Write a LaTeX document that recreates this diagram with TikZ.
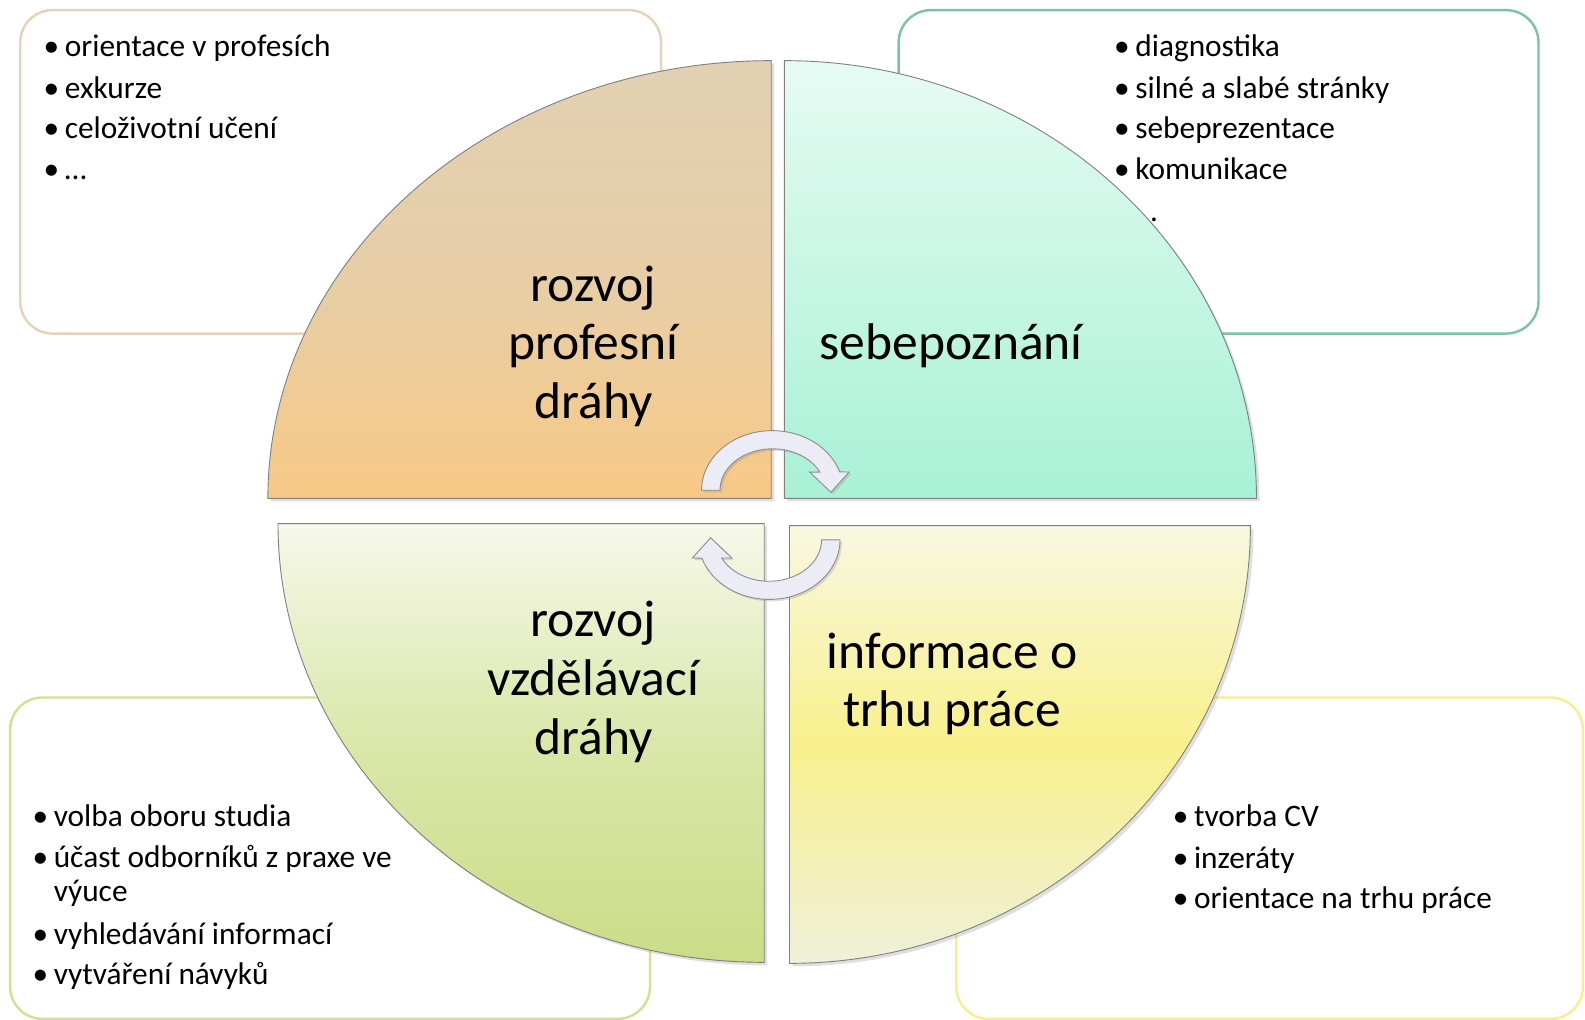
\documentclass[tikz,border=0pt]{standalone}
\usepackage{fontspec}
\setmainfont{Carlito}
\usetikzlibrary{calc,shadows}
\definecolor{profline}{HTML}{E6D3B7}
\definecolor{sebeline}{HTML}{7CC2A8}
\definecolor{vzdline}{HTML}{D0E290}
\definecolor{trhline}{HTML}{F8EE8E}
\definecolor{proftop}{HTML}{E2D0B3}
\definecolor{profmid}{HTML}{E7CEA6}
\definecolor{profbot}{HTML}{F7C986}
\definecolor{sebetop}{HTML}{E6FBF3}
\definecolor{sebemid}{HTML}{C6F6E4}
\definecolor{sebebot}{HTML}{A9F1D6}
\definecolor{vzdtop}{HTML}{F6F8EA}
\definecolor{vzdmid}{HTML}{DAE7A9}
\definecolor{vzdbot}{HTML}{CADD88}
\definecolor{trhtop}{HTML}{F7F8E2}
\definecolor{trhmid}{HTML}{F9F08C}
\definecolor{trhbot}{HTML}{EEF0DA}
\definecolor{arrowfill}{HTML}{ECECF7}
\tikzset{infobox/.style={line width=2.4pt, rounded corners=32pt, fill=white},
         piece/.style={draw=black!50, line width=0.9pt, drop shadow={shadow xshift=3pt, shadow yshift=-3pt, opacity=0.25}},
         itemtext/.style={anchor=base west, inner sep=0pt, font=\fontsize{31}{35}\selectfont},
         bigtext/.style={anchor=base, inner sep=0pt, font=\fontsize{51}{58}\selectfont},
         cyclearrow/.style={draw=black!45, line width=0.9pt, fill=arrowfill, drop shadow={shadow xshift=2pt, shadow yshift=-2pt, opacity=0.25}}}
\newcommand{\itm}[1]{\makebox[21pt][l]{\textbullet}#1}
\begin{document}
\begin{tikzpicture}[x=1pt,y=-1pt]
   \useasboundingbox (0,0) rectangle (1568,1009);

   \draw[infobox, draw=profline] ( 20, 10) rectangle ( 654, 330);
   \draw[infobox, draw=sebeline] (889, 10) rectangle (1522, 330);
   \draw[infobox, draw=vzdline]  ( 10,690) rectangle ( 643,1008);
   \draw[infobox, draw=trhline]  (946,690) rectangle (1566,1008);

   \node[itemtext] (profItemA) at (43, 56) {\itm{orientace v profesích}};
   \node[itemtext] (profItemB) at (43, 97) {\itm{exkurze}};
   \node[itemtext] (profItemC) at (43,137) {\itm{celoživotní učení}};
   \node[itemtext] (profItemD) at (43,178) {\itm{…}};

   \node[itemtext] (sebeItemA) at (1102, 56) {\itm{diagnostika}};
   \node[itemtext] (sebeItemB) at (1102, 97) {\itm{silné a slabé stránky}};
   \node[itemtext] (sebeItemC) at (1102,137) {\itm{sebeprezentace}};
   \node[itemtext] (sebeItemD) at (1102,178) {\itm{komunikace}};
   \node[itemtext] (sebeItemE) at (1102,219) {\itm{…}};

   \node[itemtext] (vzdItemA) at (32,818) {\itm{volba oboru studia}};
   \node[itemtext] (vzdItemB) at (32,858) {\itm{účast odborníků z praxe ve}};
   \node[itemtext] (vzdItemC) at (32,892) {\hspace*{21pt}výuce};
   \node[itemtext] (vzdItemD) at (32,934) {\itm{vyhledávání informací}};
   \node[itemtext] (vzdItemE) at (32,974) {\itm{vytváření návyků}};

   \node[itemtext] (trhItemA) at (1160,818) {\itm{tvorba CV}};
   \node[itemtext] (trhItemB) at (1160,859) {\itm{inzeráty}};
   \node[itemtext] (trhItemC) at (1160,899) {\itm{orientace na trhu práce}};

   \path[piece, top color=proftop, bottom color=profbot, middle color=profmid] (763,493) -- (265,493)
     arc[start angle=180, end angle=270, x radius=498, y radius=433] -- cycle;
   \path[piece, top color=sebetop, bottom color=sebebot, middle color=sebemid] (776,493) -- (776,60)
     arc[start angle=270, end angle=360, x radius=467, y radius=433] -- cycle;
   \path[piece, top color=vzdtop, bottom color=vzdbot, middle color=vzdmid] (756,518) -- (275,518)
     arc[start angle=180, end angle=90, x radius=481, y radius=434] -- cycle;
   \path[piece, top color=trhtop, bottom color=trhbot, middle color=trhmid] (781,520) -- (1237,520)
     arc[start angle=0, end angle=90, x radius=456, y radius=433] -- cycle;

   \node[bigtext] (lblProfA) at (587,298) {rozvoj};
   \node[bigtext] (lblProfB) at (587,356) {profesní};
   \node[bigtext] (lblProfC) at (587,414) {dráhy};
   \node[bigtext] (lblSebe)  at (941,356) {sebepoznání};
   \node[bigtext] (lblVzdA)  at (587,630) {rozvoj};
   \node[bigtext] (lblVzdB)  at (587,688) {vzdělávací};
   \node[bigtext] (lblVzdC)  at (587,746) {dráhy};
   \node[bigtext] (lblTrhA)  at (942,661) {informace o};
   \node[bigtext] (lblTrhB)  at (942,719) {trhu práce};

   \coordinate (cyc1) at (764,485);
   \coordinate (cyc2) at (761,534);
   \path[cyclearrow] ($(cyc1)+(-52,0)$) -- ($(cyc1)+(-70,0)$)
     arc[start angle=180, end angle=342, x radius=70, y radius=59] -- ($(cyc1)+(76,-18)$) -- ($(cyc1)+(58,2)$)
     -- ($(cyc1)+(37,-18)$) -- ($(cyc1)+(47,-18)$)
     arc[start angle=334, end angle=180, x radius=52, y radius=41] -- cycle;
   \path[cyclearrow] ($(cyc2)+(52,0)$) -- ($(cyc2)+(70,0)$)
     arc[start angle=0, end angle=162, x radius=70, y radius=59] -- ($(cyc2)+(-76,18)$) -- ($(cyc2)+(-58,-2)$)
     -- ($(cyc2)+(-37,18)$) -- ($(cyc2)+(-47,18)$)
     arc[start angle=154, end angle=0, x radius=52, y radius=41] -- cycle;
\end{tikzpicture}
\end{document}
